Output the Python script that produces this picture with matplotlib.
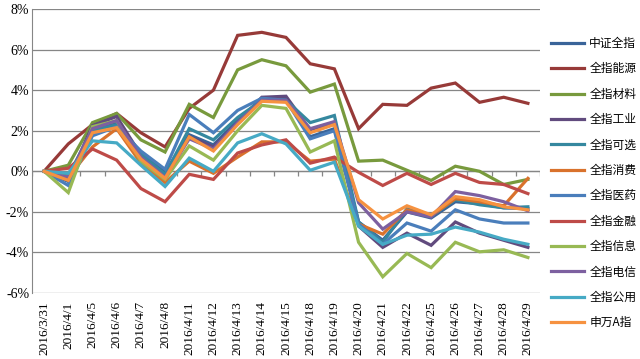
import matplotlib
matplotlib.use("Agg")
import matplotlib.pyplot as plt
import numpy as np

plt.rcParams['font.family'] = ['Liberation Serif', 'Noto Sans CJK SC', 'DejaVu Sans']

dates = ['2016/3/31', '2016/4/1', '2016/4/5', '2016/4/6', '2016/4/7', '2016/4/8',
         '2016/4/11', '2016/4/12', '2016/4/13', '2016/4/14', '2016/4/15', '2016/4/18',
         '2016/4/19', '2016/4/20', '2016/4/21', '2016/4/22', '2016/4/25', '2016/4/26',
         '2016/4/27', '2016/4/28', '2016/4/29']

# cumulative returns, %
zz_all = [0, -0.5, 2.0, 2.4, 0.9, -0.05, 1.8, 1.3, 2.5, 3.55, 3.6, 1.7, 2.1,
          -2.5, -3.4, -2.0, -2.3, -1.5, -1.6, -1.8, -1.85]
energy = [0, 1.35, 2.3, 2.85, 1.9, 1.2, 3.1, 4.0, 6.7, 6.85, 6.6, 5.3, 5.05,
          2.1, 3.3, 3.25, 4.1, 4.35, 3.4, 3.65, 3.35]
materials = [0, 0.3, 2.4, 2.85, 1.55, 0.95, 3.3, 2.65, 5.0, 5.5, 5.2, 3.9, 4.3,
             0.5, 0.55, 0.05, -0.45, 0.25, 0.0, -0.65, -0.4]
industry = [0, -0.4, 2.25, 2.7, 0.8, -0.25, 1.7, 1.2, 2.4, 3.65, 3.7, 2.05, 2.4,
            -2.7, -3.75, -3.05, -3.65, -2.5, -3.05, -3.4, -3.75]
discretionary = [0, -0.2, 2.0, 2.3, 0.85, -0.15, 2.1, 1.55, 2.65, 3.5, 3.5, 2.4, 2.75,
                 -2.5, -3.5, -1.85, -2.2, -1.4, -1.65, -1.8, -1.75]
staples = [0, -0.3, 1.2, 2.1, 0.4, -0.55, 0.5, -0.1, 0.7, 1.45, 1.45, 0.5, 0.6,
           -2.6, -3.1, -1.9, -2.2, -1.35, -1.5, -1.7, -0.35]
health = [0, -0.7, 1.75, 2.2, 1.0, 0.1, 2.8, 1.9, 3.0, 3.6, 3.5, 1.6, 2.0,
          -2.6, -3.6, -2.55, -2.95, -1.9, -2.35, -2.55, -2.55]
finance = [0, 0.15, 1.1, 0.55, -0.85, -1.5, -0.15, -0.4, 0.9, 1.3, 1.55, 0.4, 0.7,
           -0.05, -0.7, -0.1, -0.65, -0.1, -0.55, -0.65, -1.1]
info = [0, -1.05, 2.2, 2.5, 0.5, -0.4, 1.25, 0.55, 2.0, 3.25, 3.1, 0.95, 1.5,
        -3.5, -5.2, -4.05, -4.75, -3.5, -3.97, -3.87, -4.25]
telecom = [0, -0.3, 2.1, 2.5, 0.7, -0.3, 1.6, 1.1, 2.4, 3.5, 3.5, 2.1, 2.45,
           -1.55, -2.85, -2.0, -2.25, -1.0, -1.2, -1.5, -1.95]
utilities = [0, -0.1, 1.5, 1.4, 0.3, -0.75, 0.65, 0.0, 1.4, 1.85, 1.35, 0.05, 0.45,
             -2.7, -3.6, -3.15, -3.1, -2.75, -3.0, -3.35, -3.6]
sw_a = [0, -0.45, 1.9, 2.15, 0.6, -0.35, 1.7, 1.0, 2.3, 3.45, 3.4, 1.9, 2.3,
        -1.4, -2.35, -1.7, -2.15, -1.25, -1.4, -1.75, -1.9]

names = ['中证全指', '全指能源', '全指材料', '全指工业', '全指可选', '全指消费',
         '全指医药', '全指金融', '全指信息', '全指电信', '全指公用', '申万A指']
series = [zz_all, energy, materials, industry, discretionary, staples,
          health, finance, info, telecom, utilities, sw_a]
colors = ['#3A6499', '#973A38', '#789A3D', '#614B7E', '#35889F', '#D9722C',
          '#4A7EBB', '#BE4B48', '#98B954', '#7D60A0', '#46AAC5', '#F69240']

fig = plt.figure(figsize=(6.4, 3.59), dpi=100)
ax = fig.add_axes([32 / 640, 1 - 293 / 359, 508 / 640, 284 / 359])

x = np.arange(len(dates))
for name, vals, c in zip(names, series, colors):
    ax.plot(x, vals, color=c, lw=2.3, label=name, solid_joinstyle='miter')

ax.set_xlim(-0.5, len(dates) - 0.5)
ax.set_ylim(-6, 8)
ax.set_yticks(np.arange(-6, 9, 2))
ax.set_yticklabels([f'{v}%' for v in range(-6, 9, 2)], fontsize=10)
ax.yaxis.grid(True, color='#868686', lw=0.9)
ax.set_axisbelow(True)

ax.set_xticks(x)
ax.set_xticklabels(dates, rotation=90, fontsize=9.5)
ax.tick_params(axis='x', length=0, pad=6)
ax.tick_params(axis='y', length=0, pad=2)

for s in ['top', 'right', 'bottom']:
    ax.spines[s].set_visible(False)
ax.spines['left'].set_color('#868686')

# category axis crossing at 0 with ticks between categories
ax.axhline(0, color='#868686', lw=0.9, zorder=1)
ax.vlines(np.arange(-0.5, len(dates)), -0.22, 0, color='#868686', lw=0.9, zorder=1)

fig.legend(loc='upper left', bbox_to_anchor=(551 / 640, 1 - 37 / 359),
           frameon=False, prop={'family': 'Noto Sans CJK SC', 'size': 8.5},
           handlelength=2.8, handletextpad=0.45, labelspacing=1.05,
           borderaxespad=0, borderpad=0)

fig.savefig('out.png', dpi=100)
